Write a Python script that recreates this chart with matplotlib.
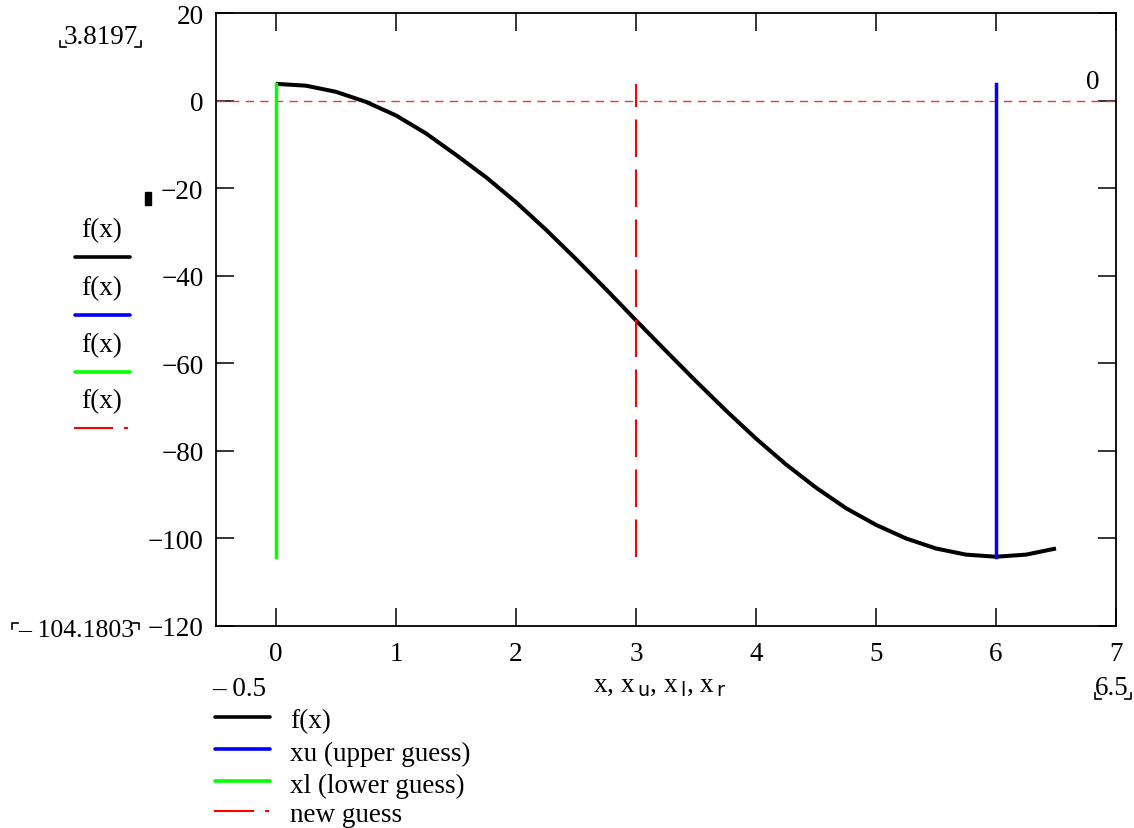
import numpy as np
import matplotlib
matplotlib.use('Agg')
import matplotlib.pyplot as plt
from matplotlib.lines import Line2D

plt.rcParams['font.family'] = ['Liberation Serif', 'DejaVu Serif']
plt.rcParams['lines.scale_dashes'] = False

##Data

x_vals = [0.0, 0.25, 0.5, 0.75, 1.0, 1.25, 1.5, 1.75, 2.0, 2.25, 2.5, 2.75, 3.0,
          3.25, 3.5, 3.75, 4.0, 4.25, 4.5, 4.75, 5.0, 5.25, 5.5, 5.75, 6.0, 6.25, 6.5]
f_vals = [3.82, 3.4, 2.0, -0.3, -3.4, -7.5, -12.4, -17.5, -23.2, -29.5, -36.2, -43.1, -50.2,
          -57.2, -64.1, -70.8, -77.2, -83.1, -88.4, -93.1, -96.9, -100.0, -102.3, -103.7,
          -104.18, -103.7, -102.3]
xu = 6.0
xl = 0.0
xr = 3.0
f_max = 3.8197
f_min = -104.1803
x_lo, x_hi = -0.5, 6.5
legend_labels = ['f(x)', 'xu (upper guess)', 'xl (lower guess)', 'new guess']
colors = ['black', '#0000ff', '#00ff00', '#ff0000']

##Figure

W, H = 1134, 829
FS = 19.5
fig = plt.figure(figsize=(W / 100, H / 100), dpi=100)
ax = fig.add_axes([216 / W, 1 - 627 / H, 900 / W, 613 / H])

ax.plot(x_vals, f_vals, color=colors[0], lw=2.9, solid_capstyle='butt', zorder=3)
ax.plot([xu, xu], [f_min, f_max], color=colors[1], lw=2.5, zorder=4)
ax.plot([xl, xl], [f_min, f_max], color=colors[2], lw=2.5, zorder=4)
ax.plot([xr, xr], [f_min, f_max], color=colors[3], lw=1.5, dashes=(27, 9), zorder=4)
ax.axhline(0, color='#ff3030', lw=1.0, dashes=(6, 4.5), zorder=2)

ax.set_xlim(-0.5, 7)
ax.set_ylim(-120, 20)
ax.set_xticks(range(0, 8))
ax.set_yticks(range(-120, 21, 20))
ax.tick_params(direction='in', length=13, width=1.1, top=True, right=True,
               labelsize=FS, colors='black')
ax.tick_params(axis='y', pad=9)
ax.tick_params(axis='x', pad=11)
for s in ax.spines.values():
    s.set_linewidth(1.3)

ax.text(6.81, 1.5, '0', fontsize=FS, ha='center', va='bottom')

def fx(px):
    return px / W

def fy(py):
    return 1 - py / H

def corners(x0, x1, y0, top=False):
    # little Mathcad limit brackets
    d = 6
    if top:
        pts = [[(x0, y0 + d), (x0, y0), (x0 + d, y0)], [(x1 - d, y0), (x1, y0), (x1, y0 + d)]]
    else:
        pts = [[(x0, y0 - d), (x0, y0), (x0 + d, y0)], [(x1 - d, y0), (x1, y0), (x1, y0 - d)]]
    for p in pts:
        fig.add_artist(Line2D([fx(a) for a, b in p], [fy(b) for a, b in p], color='black', lw=1.2))

fig.text(fx(101), fy(37), '%.4f' % f_max, fontsize=FS, ha='center', va='center')
corners(60, 141, 48)
fig.text(fx(76), fy(631), '\u2013 %.4f' % abs(f_min), fontsize=18.5, ha='center', va='center')
corners(12, 139, 624, top=True)

fig.text(fx(212), fy(690), '\u2013 %.1f' % abs(x_lo), fontsize=FS, ha='left', va='center')
fig.text(fx(1129), fy(689), '%.1f' % x_hi, fontsize=FS, ha='right', va='center')
corners(1095, 1131, 700)
fig.text(fx(660), fy(686), r'x, x$_{\,\mathrm{u}}$, x$_{\,\mathrm{l}}$, x$_{\,\mathrm{r}}$',
         fontsize=FS, ha='center', va='center')

# left legend
for i, c in enumerate(colors):
    yl = [258, 316, 373, 429][i]
    fig.text(fx(102), fy(yl - 27), 'f(x)', fontsize=FS, ha='center', va='center')
    if i < 3:
        fig.add_artist(Line2D([fx(75), fx(130)], [fy(yl)] * 2, color=c, lw=2.6,
                              solid_capstyle='round'))
    else:
        fig.add_artist(Line2D([fx(75), fx(112)], [fy(yl)] * 2, color=c, lw=1.5))
        fig.add_artist(Line2D([fx(125), fx(127)], [fy(yl)] * 2, color=c, lw=1.5))
fig.add_artist(plt.Rectangle((fx(145), fy(206)), 6 / W, 13 / H, color='black'))

# bottom legend
for i, (lab, c) in enumerate(zip(legend_labels, colors)):
    yl = [718, 750, 782, 812][i]
    if i < 3:
        fig.add_artist(Line2D([fx(215), fx(270)], [fy(yl)] * 2, color=c, lw=2.6,
                              solid_capstyle='round'))
    else:
        fig.add_artist(Line2D([fx(215), fx(253)], [fy(yl)] * 2, color=c, lw=1.5))
        fig.add_artist(Line2D([fx(266), fx(268)], [fy(yl)] * 2, color=c, lw=1.5))
    fig.text(fx(290), fy(yl + 4), lab, fontsize=FS, ha='left', va='center')

fig.savefig('out.png', dpi=100)
